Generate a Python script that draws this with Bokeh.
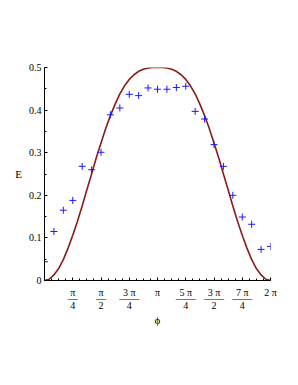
import numpy as np
from bokeh.plotting import figure
from bokeh.models import FixedTicker, ColumnDataSource
from bokeh.embed import file_html
from bokeh.resources import INLINE

# Measured data points (phi in steps of pi/12)
point_steps = list(range(25))
point_E = [0.044, 0.115, 0.165, 0.188, 0.268, 0.260, 0.301, 0.389, 0.405, 0.437,
           0.434, 0.452, 0.449, 0.449, 0.453, 0.456, 0.397, 0.379, 0.319, 0.268,
           0.200, 0.149, 0.132, 0.073, 0.080]

# Model curve values (phi in steps of pi/24)
curve_steps = list(range(49))
curve_E = [0.000, 0.003, 0.013, 0.028, 0.049, 0.076, 0.106, 0.139, 0.175, 0.213,
           0.250, 0.288, 0.323, 0.357, 0.387, 0.414, 0.438, 0.457, 0.472, 0.483,
           0.491, 0.496, 0.499, 0.500, 0.500, 0.500, 0.499, 0.496, 0.491, 0.483,
           0.472, 0.457, 0.438, 0.414, 0.387, 0.357, 0.323, 0.288, 0.250, 0.213,
           0.175, 0.139, 0.106, 0.076, 0.049, 0.028, 0.013, 0.003, 0.000]

# Tick labels
x_tick_quarters = [1, 2, 3, 4, 5, 6, 7, 8]
x_tick_labels = ["π\n—\n4", "π\n—\n2", "3 π\n——\n4", "π",
                 "5 π\n——\n4", "3 π\n——\n2", "7 π\n——\n4", "2 π"]
y_ticks = [0, 0.1, 0.2, 0.3, 0.4, 0.5]
y_tick_labels = ["0", "0.1", "0.2", "0.3", "0.4", "0.5"]

pts = ColumnDataSource(dict(phi=[s * np.pi / 12 for s in point_steps], E=point_E))
crv = ColumnDataSource(dict(phi=[s * np.pi / 24 for s in curve_steps], E=curve_E))

FONT = "Liberation Serif"

p = figure(width=290, height=345, output_backend="svg", toolbar_location=None,
           x_range=(0, 2 * np.pi), y_range=(0, 0.5),
           min_border_left=44, min_border_right=20, min_border_top=67,
           min_border_bottom=65)
p.outline_line_color = None
p.grid.visible = False
p.background_fill_color = "white"
p.border_fill_color = "white"

p.line("phi", "E", source=crv, line_color="#8b1a1a", line_width=1.6)
p.scatter("phi", "E", source=pts, marker="cross", size=7, line_color="#1a1aff",
          line_width=1)

xticks = [q * np.pi / 4 for q in x_tick_quarters]
xminor = [k * np.pi / 16 for k in range(33)]
p.xaxis.ticker = FixedTicker(ticks=xticks, minor_ticks=xminor)
p.xaxis.major_label_overrides = {t: lab for t, lab in zip(xticks, x_tick_labels)}
yminor = [k * 0.05 for k in range(11)]
p.yaxis.ticker = FixedTicker(ticks=y_ticks, minor_ticks=yminor)
p.yaxis.major_label_overrides = {t: lab for t, lab in zip(y_ticks, y_tick_labels)}

for ax in (p.xaxis, p.yaxis):
    ax.major_tick_in = 3
    ax.major_tick_out = 0
    ax.minor_tick_in = 2
    ax.minor_tick_out = 0
    ax.axis_line_color = "black"
    ax.major_tick_line_color = "black"
    ax.minor_tick_line_color = "black"
    ax.major_label_text_font = FONT
    ax.major_label_text_font_size = "10px"
    ax.major_label_text_color = "black"
    ax.axis_label_text_font = FONT
    ax.axis_label_text_font_size = "11px"
    ax.axis_label_text_font_style = "normal"
    ax.axis_label_text_color = "black"

p.xaxis.axis_label = "ϕ"
p.yaxis.axis_label = "E"
p.yaxis.axis_label_orientation = "horizontal"
p.yaxis.major_label_standoff = 3
p.yaxis.axis_label_standoff = 4
p.xaxis.major_label_standoff = 6
p.xaxis.axis_label_standoff = 0
p.xaxis.major_label_text_line_height = 0.6

open("out.html", "w").write(file_html(p, INLINE))
